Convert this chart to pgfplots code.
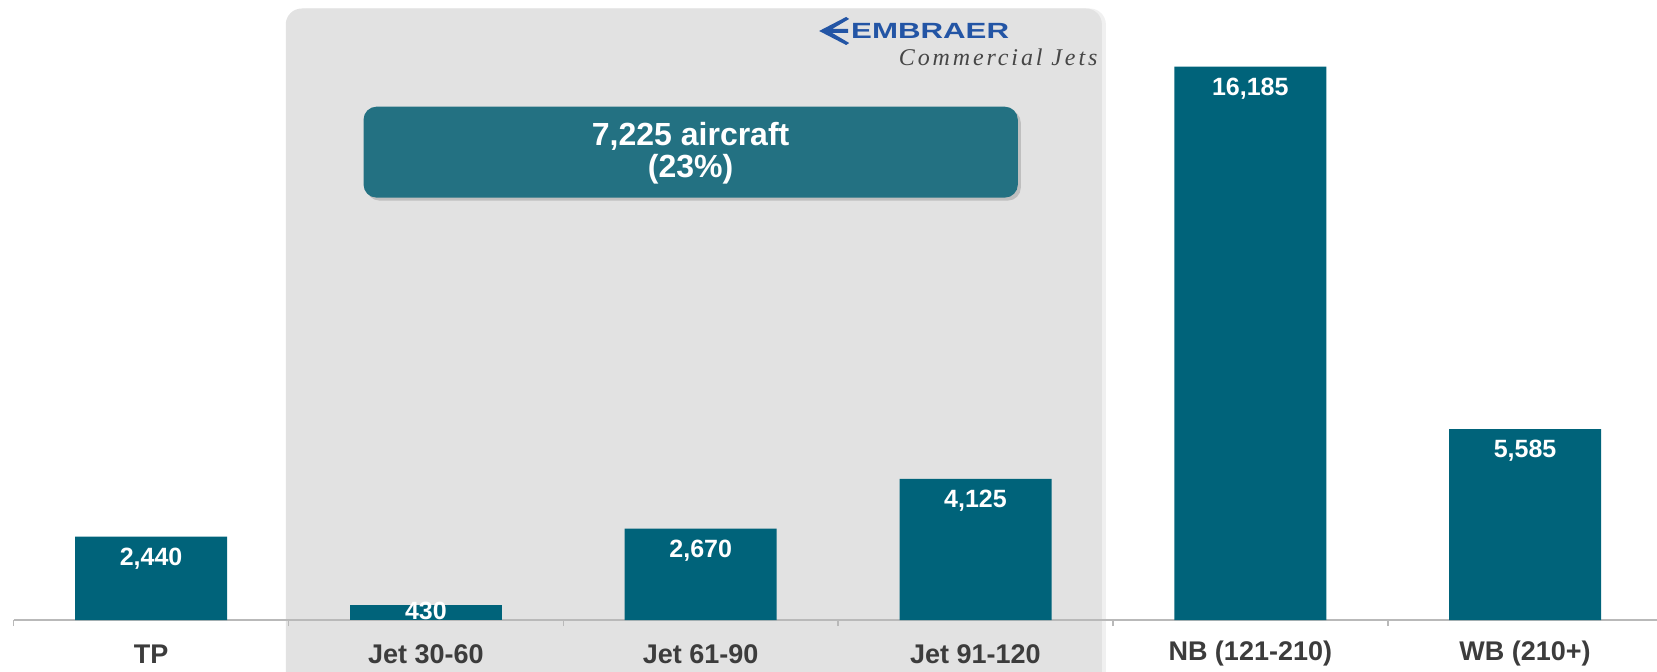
\documentclass[border=0pt]{standalone}
\usepackage{fontspec}
\setmainfont{Liberation Sans}
\newfontfamily\logoserif{Liberation Serif}[LetterSpace=12]
\usepackage{pgfplots}
\pgfplotsset{compat=1.18}
\usetikzlibrary{shadows}
\definecolor{barc}{RGB}{0,99,122}
\definecolor{boxc}{RGB}{35,113,130}
\definecolor{shadec}{RGB}{226,226,226}
\definecolor{lbl}{RGB}{60,60,60}
\definecolor{logob}{RGB}{35,85,165}
\definecolor{axc}{RGB}{185,185,185}
\begin{document}
\begin{tikzpicture}
\begin{axis}[
  set layers,
  scale only axis, width=821.65pt, height=310pt,
  xmin=-0.5, xmax=5.48, ymin=0, ymax=18132,
  axis x line*=bottom, axis y line=none,
  x axis line style={draw=axc, line width=0.8pt, -},
  xtick={0,1,2,3,4,5},
  xticklabels={TP, Jet 30-60, Jet 61-90, Jet 91-120, NB (121-210), WB (210+)},
  major tick length=0pt,
  minor xtick={-0.5,0.5,1.5,2.5,3.5,4.5},
  minor tick length=3pt, tick align=outside,
  minor tick style={draw=axc, line width=0.8pt},
  xticklabel style={font=\bfseries\fontsize{13.5}{15}\selectfont, text=lbl, anchor=center, yshift=-17pt},
  ybar, bar width=76pt, bar shift=0pt,
  clip=false,
  nodes near coords,
  every node near coord/.append style={anchor=center, yshift=-11pt, text=white, font=\bfseries\fontsize{12.5}{14}\selectfont},
  /pgf/number format/fixed, /pgf/number format/precision=0,
  /pgf/number format/1000 sep={,}, /pgf/number format/assume math mode=true,
]
\coordinate (bl) at (rel axis cs:0,0);
\coordinate (tr) at (rel axis cs:1,1);
\begin{pgfonlayer}{axis background}
\fill[shadec, rounded corners=8pt, drop shadow={opacity=0.12, shadow xshift=2pt, shadow yshift=0pt}] (axis cs:0.49,-4000) rectangle (axis cs:3.46,17884);
\end{pgfonlayer}
\addplot[fill=barc, draw=none] coordinates {(0,2440) (2,2670) (3,4125) (4,16185) (5,5585)};
\addplot[fill=barc, draw=none, every node near coord/.append style={yshift=8.3pt}] coordinates {(1,430)};
\fill[boxc, rounded corners=6.5pt, drop shadow={opacity=0.35, shadow xshift=1.5pt, shadow yshift=-1.5pt}] (axis cs:0.773,12353) rectangle (axis cs:3.154,15012);
\node[text=white, font=\bfseries\fontsize{16}{16}\selectfont, align=center] at (axis cs:1.9635,13658) {7,225 aircraft\\(23\%)};
\node[inner sep=0pt] (emb) at (axis cs:2.835,17226) {\scalebox{1.42}[1]{\color{logob}\bfseries\fontsize{11}{12}\selectfont EMBRAER}};
\node[inner sep=0pt, text={rgb,255:red,70;green,70;blue,70}] at ([xshift=34pt,yshift=-13pt]emb.center) {\logoserif\itshape\fontsize{12}{13}\selectfont Commercial Jets};
\fill[logob] ([xshift=-55.5pt]emb.center) -- ([xshift=-42pt,yshift=7pt]emb.center) -- ([xshift=-40.5pt,yshift=6pt]emb.center) -- ([xshift=-49pt,yshift=1pt]emb.center) -- ([xshift=-41pt,yshift=1pt]emb.center) -- ([xshift=-41pt,yshift=-1pt]emb.center) -- ([xshift=-49pt,yshift=-1pt]emb.center) -- ([xshift=-40.5pt,yshift=-6pt]emb.center) -- ([xshift=-42pt,yshift=-7pt]emb.center) -- cycle;
\end{axis}
\pgfresetboundingbox
\path ([xshift=-6.85pt,yshift=-25.5pt]bl) rectangle (tr);
\end{tikzpicture}
\end{document}
